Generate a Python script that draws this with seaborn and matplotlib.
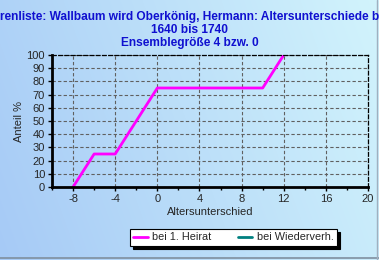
import numpy as np
import pandas as pd
import matplotlib
matplotlib.use("Agg")
import matplotlib.pyplot as plt
import seaborn as sns
from matplotlib.lines import Line2D
from matplotlib.ticker import MultipleLocator

# Data
x_first = [-8, -6, -4, 0, 10, 12]
y_first = [0, 25, 25, 75, 75, 100]
x_re = []
y_re = []
series_labels = ["bei 1. Heirat", "bei Wiederverh."]
title_lines = ["renliste: Wallbaum wird Oberkönig, Hermann: Altersunterschiede b",
               "1640 bis 1740", "Ensemblegröße 4 bzw. 0"]
x_label = "Altersunterschied"
y_label = "Anteil %"

sns.set_theme(style="white")
plt.rcParams['font.family'] = ['Liberation Sans', 'DejaVu Sans']
plt.rcParams['axes.unicode_minus'] = False

fig = plt.figure(figsize=(3.79, 2.60), dpi=100)

# gradient background
bg = fig.add_axes([0, 0, 1, 1], zorder=-10)
h, w = 260, 379
yy, xx = np.mgrid[0:h, 0:w]
t = (xx / w) * 0.8 + (1 - yy / h) * 0.2
c0 = np.array([166, 202, 246]) / 255
c1 = np.array([210, 244, 252]) / 255
img = c0[None, None, :] * (1 - t[..., None]) + c1[None, None, :] * t[..., None]
bg.imshow(img, aspect='auto', extent=[0, 1, 0, 1], origin='upper')
bg.set_xlim(0, 1); bg.set_ylim(0, 1)
bg.axis('off')
bg.plot([0, 1], [0.006, 0.006], color='#7f8f9f', lw=1.2)
bg.plot([0.994, 0.994], [0, 1], color='#a0b0c0', lw=1.0)

ax = fig.add_axes([52/379, 1-187/260, (368-52)/379, (187-55)/260])
ax.patch.set_alpha(0)

df = pd.DataFrame({"x": x_first, "y": y_first, "s": series_labels[0]})
sns.lineplot(data=df, x="x", y="y", ax=ax, color="#ff00ff", lw=2.0, legend=False)
ax.plot(x_re, y_re, color="#008080", lw=2.0)

ax.set_xlim(-10, 20)
ax.set_ylim(0, 100)
ax.xaxis.set_minor_locator(MultipleLocator(2))
ax.set_xticks([-8, -4, 0, 4, 8, 12, 16, 20])
ax.yaxis.set_major_locator(MultipleLocator(10))
ax.grid(True, which='major', linestyle=(0, (3, 2)), color='#606060', lw=0.8)
ax.tick_params(axis='both', which='major', labelsize=8, length=3, width=1, color='black', pad=2, direction='out')
ax.tick_params(axis='x', which='minor', length=2, width=1, color='black', direction='out')
ax.tick_params(axis='x', bottom=True, which='both')
ax.tick_params(axis='y', left=True)
for s in ['left', 'bottom']:
    ax.spines[s].set_linewidth(2)
    ax.spines[s].set_color('black')
for s in ['top', 'right']:
    ax.spines[s].set_linewidth(0.9)
    ax.spines[s].set_linestyle((0, (3, 2)))
    ax.spines[s].set_color('black')
ax.set_xlabel(x_label, fontsize=8, labelpad=2)
ax.set_ylabel(y_label, fontsize=8, labelpad=2)

tc = '#1010d0'
ys = [1-17/260, 1-30/260, 1-43/260]
for line, yv in zip(title_lines, ys):
    fig.text(0.5, yv, line, ha='center', va='center', fontsize=8.6, fontweight='bold', color=tc)

handles = [Line2D([], [], color="#ff00ff", lw=2), Line2D([], [], color="#008080", lw=2)]
leg = fig.legend(handles, series_labels, ncol=2, loc='center',
                 bbox_to_anchor=((132+335)/2/379, 1-237.5/260), fontsize=7.8,
                 frameon=True, fancybox=False, shadow={'color': 'black', 'alpha': 1},
                 edgecolor='black', framealpha=1, handlelength=1.3, handletextpad=0.4,
                 columnspacing=2.5, borderpad=0.3)
leg.get_frame().set_linewidth(0.8)

fig.savefig("out.png", dpi=100)
